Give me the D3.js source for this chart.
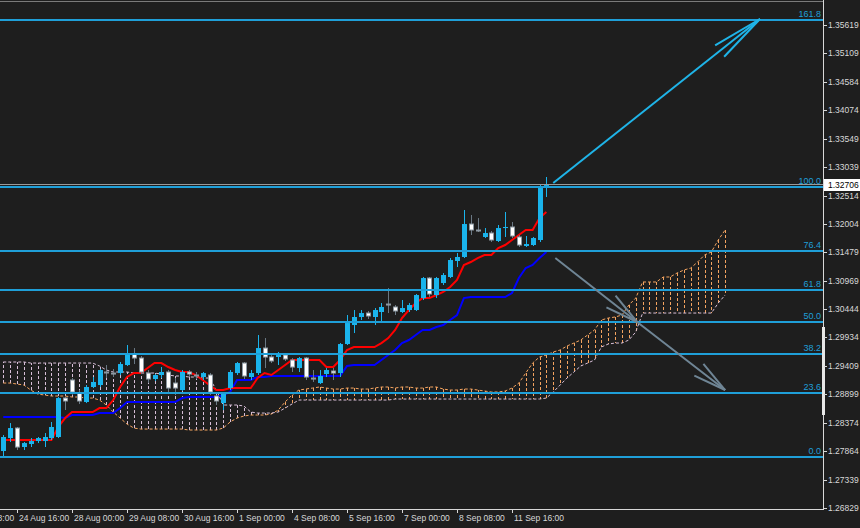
<!DOCTYPE html>
<html><head><meta charset="utf-8">
<script src="https://cdn.jsdelivr.net/npm/d3@7"></script>
<style>
html,body{margin:0;padding:0;background:#1e1e1e;overflow:hidden}
svg{display:block}
text{font-family:"Liberation Sans",Arial,sans-serif}
</style></head><body>
<svg id="c" width="860" height="528"></svg>
<script>
// ---------- DATA ----------
const open = [1.27866,1.28102,1.28284,1.27939,1.27993,1.28048,1.28048,1.28102,1.28121,1.28830,
 1.29158,1.28921,1.28758,1.29031,1.29067,1.29304,1.29285,1.29285,1.29431,1.29631,
 1.29558,1.29285,1.29176,1.29249,1.29304,1.29103,1.28976,1.29304,1.29249,1.29213,
 1.29249,1.28867,1.28739,1.29012,1.29285,1.29467,1.29213,1.29285,1.29740,1.29577,
 1.29577,1.29613,1.29522,1.29376,1.29558,1.29194,1.29103,1.29267,1.29322,1.29285,
 1.29813,1.30159,1.30305,1.30377,1.30305,1.30396,1.30541,1.30487,1.30396,1.30432,
 1.30432,1.30650,1.31014,1.30705,1.30923,1.31033,1.31324,1.31397,1.31997,1.31888,
 1.31761,1.31833,1.31688,1.31924,1.31943,1.31761,1.31597,1.31615,1.31706,1.32671];
const high = [1.28157,1.28375,1.28303,1.28030,1.28102,1.28121,1.28193,1.28394,1.28849,1.28849,
 1.29194,1.28976,1.29067,1.29213,1.29358,1.29431,1.29358,1.29486,1.29795,1.29740,
 1.29595,1.29340,1.29267,1.29395,1.29340,1.29194,1.29340,1.29340,1.29304,1.29304,
 1.29285,1.28885,1.28940,1.29340,1.29486,1.29486,1.29340,1.29977,1.29922,1.29613,
 1.29668,1.29631,1.29558,1.29577,1.29577,1.29340,1.29340,1.29376,1.29376,1.29831,
 1.30341,1.30432,1.30432,1.30414,1.30468,1.30559,1.30832,1.30523,1.30614,1.30559,
 1.30723,1.31033,1.31033,1.31033,1.31105,1.31378,1.31469,1.32252,1.32161,1.32106,
 1.31924,1.31870,1.31979,1.32216,1.32034,1.31797,1.31779,1.31761,1.32707,1.32853];
const low = [1.27757,1.28030,1.27884,1.27884,1.27939,1.28011,1.27939,1.28066,1.28102,1.28612,
 1.28885,1.28721,1.28739,1.29012,1.29031,1.29194,1.29213,1.29249,1.29413,1.29449,
 1.29267,1.29103,1.29140,1.29194,1.28940,1.28885,1.28958,1.29213,1.29176,1.29158,
 1.28885,1.28703,1.28612,1.28976,1.29249,1.29176,1.29158,1.29249,1.29376,1.29467,
 1.29431,1.29504,1.29304,1.29304,1.29158,1.29122,1.29085,1.29213,1.29158,1.29213,
 1.29795,1.30013,1.30250,1.30268,1.30159,1.30214,1.30377,1.30341,1.30377,1.30396,
 1.30414,1.30614,1.30669,1.30650,1.30887,1.31014,1.31215,1.31378,1.31797,1.31852,
 1.31742,1.31670,1.31670,1.31761,1.31742,1.31579,1.31579,1.31597,1.31670,1.32489];
const close = [1.28121,1.28284,1.27920,1.28011,1.28048,1.28102,1.28121,1.28303,1.28830,1.28758,
 1.28921,1.28758,1.29031,1.29122,1.29340,1.29285,1.29267,1.29449,1.29631,1.29540,
 1.29285,1.29158,1.29249,1.29304,1.28994,1.28994,1.29304,1.29249,1.29231,1.29285,
 1.28921,1.28758,1.28921,1.29304,1.29467,1.29213,1.29285,1.29740,1.29558,1.29486,
 1.29613,1.29522,1.29376,1.29558,1.29194,1.29158,1.29231,1.29340,1.29267,1.29813,
 1.30195,1.30305,1.30377,1.30305,1.30432,1.30487,1.30523,1.30396,1.30468,1.30523,
 1.30705,1.31014,1.30705,1.31014,1.31069,1.31342,1.31397,1.31997,1.31870,1.31870,
 1.31833,1.31688,1.31924,1.31943,1.31761,1.31597,1.31633,1.31742,1.32652,1.32706];

const tenkan = [1.28066,1.28066,1.28066,1.28066,1.28066,1.28066,1.28066,1.28066,1.28303,1.28466,
 1.28576,1.28576,1.28576,1.28576,1.28648,1.28648,1.28794,1.29031,1.29213,1.29285,
 1.29285,1.29376,1.29467,1.29467,1.29395,1.29340,1.29304,1.29304,1.29249,1.29158,
 1.29067,1.28976,1.28976,1.29012,1.29012,1.29012,1.29012,1.29194,1.29285,1.29249,
 1.29340,1.29431,1.29522,1.29522,1.29522,1.29522,1.29522,1.29395,1.29395,1.29522,
 1.29704,1.29759,1.29759,1.29759,1.29759,1.29831,1.29922,1.30068,1.30286,1.30432,
 1.30559,1.30650,1.30650,1.30705,1.30760,1.30851,1.30978,1.31251,1.31306,1.31378,
 1.31433,1.31433,1.31560,1.31615,1.31706,1.31797,1.31888,1.31888,1.32106,1.32216];
const kijun = [1.28485,1.28485,1.28485,1.28485,1.28485,1.28485,1.28485,1.28485,1.28485,1.28466,
 1.28521,1.28521,1.28521,1.28521,1.28557,1.28557,1.28557,1.28648,1.28758,1.28758,
 1.28758,1.28758,1.28758,1.28758,1.28758,1.28758,1.28830,1.28849,1.28849,1.28849,
 1.28849,1.28849,1.28885,1.28940,1.29158,1.29158,1.29158,1.29213,1.29213,1.29231,
 1.29231,1.29231,1.29231,1.29231,1.29231,1.29231,1.29231,1.29231,1.29231,1.29231,
 1.29413,1.29431,1.29431,1.29431,1.29431,1.29522,1.29613,1.29704,1.29831,1.29886,
 1.29977,1.30068,1.30068,1.30123,1.30159,1.30250,1.30341,1.30650,1.30669,1.30669,
 1.30669,1.30669,1.30669,1.30669,1.30741,1.31014,1.31196,1.31251,1.31378,1.31488];
const spanA = [1.29103,1.29103,1.29085,1.29067,1.28976,1.28903,1.28885,1.28867,1.28867,1.28867,
 1.28849,1.28849,1.28830,1.28830,1.28794,1.28703,1.28576,1.28466,1.28357,1.28284,
 1.28266,1.28266,1.28266,1.28266,1.28266,1.28266,1.28266,1.28248,1.28248,1.28248,
 1.28248,1.28248,1.28284,1.28394,1.28466,1.28503,1.28521,1.28521,1.28521,1.28539,
 1.28612,1.28758,1.28885,1.28976,1.28994,1.29012,1.29031,1.29012,1.28994,1.28994,
 1.29012,1.29012,1.28994,1.28994,1.29012,1.29031,1.29031,1.29012,1.29031,1.29031,
 1.29012,1.29012,1.29031,1.29031,1.28994,1.28976,1.28976,1.28994,1.28994,1.28976,
 1.28958,1.28940,1.28940,1.28958,1.29012,1.29103,1.29285,1.29467,1.29577,1.29613,
 1.29668,1.29704,1.29777,1.29831,1.29886,1.29977,1.30068,1.30250,1.30286,1.30305,
 1.30341,1.30523,1.30650,1.30942,1.30942,1.30942,1.31033,1.31033,1.31105,1.31160,
 1.31196,1.31306,1.31433,1.31488,1.31706,1.31888];
const spanB = [1.29486,1.29486,1.29486,1.29486,1.29467,1.29467,1.29467,1.29467,1.29467,1.29467,
 1.29467,1.29467,1.29467,1.29467,1.29413,1.29340,1.29304,1.29304,1.29304,1.29285,
 1.29285,1.29285,1.29285,1.29267,1.29249,1.29231,1.29231,1.29213,1.29213,1.29194,
 1.29194,1.28976,1.28703,1.28703,1.28703,1.28685,1.28576,1.28557,1.28557,1.28557,
 1.28576,1.28648,1.28721,1.28794,1.28794,1.28794,1.28794,1.28794,1.28794,1.28794,
 1.28794,1.28794,1.28794,1.28794,1.28794,1.28794,1.28794,1.28812,1.28812,1.28812,
 1.28812,1.28812,1.28812,1.28812,1.28812,1.28812,1.28812,1.28812,1.28812,1.28812,
 1.28812,1.28812,1.28812,1.28812,1.28812,1.28812,1.28812,1.28812,1.28812,1.28830,
 1.28940,1.29067,1.29194,1.29304,1.29413,1.29467,1.29522,1.29759,1.29813,1.29831,
 1.29831,1.29886,1.30032,1.30377,1.30377,1.30377,1.30377,1.30377,1.30377,1.30377,
 1.30377,1.30377,1.30377,1.30377,1.30559,1.30705];

const timeTickIndex = [-6,2,10,18,26,34,42,50,58,66,74];
const timeTickLabels = ["23 Aug 08:00","24 Aug 16:00","28 Aug 00:00","29 Aug 08:00","30 Aug 16:00",
  "1 Sep 00:00","4 Sep 08:00","5 Sep 16:00","7 Sep 00:00","8 Sep 08:00","11 Sep 16:00"];
const priceTicks = [1.35619,1.35109,1.34584,1.34074,1.33549,1.33039,1.32514,1.32004,1.31479,
  1.30969,1.30444,1.29934,1.29409,1.28899,1.28374,1.27864,1.27339,1.26829];
const fibLevels = [0, 23.6, 38.2, 50, 61.8, 76.4, 100, 161.8];
const fibLow = 1.27757, fibHigh = 1.32671;
const arrowUp = [[80.0, 1.32744], [110.07, 1.35728]];
const arrowDown = [[80.3, 1.31378], [92.2, 1.30214], [105.0, 1.28976]];

// ---------- LAYOUT ----------
const W = 860, H = 528, plotR = 823, plotB = 509;
const svg = d3.select("#c");
svg.append("rect").attr("width", W).attr("height", H).attr("fill", "#1e1e1e");

const x = d3.scaleLinear().domain([0, 79]).range([3.25, 3.25 + 79 * 6.875]);
const y = d3.scaleLinear().domain([1.26829, 1.35619]).range([508, 25]);

svg.append("clipPath").attr("id", "clip").append("rect")
  .attr("x", 0).attr("y", 0).attr("width", plotR).attr("height", plotB);
const g = svg.append("g").attr("clip-path", "url(#clip)");

const SANDY = "#f4a460", THISTLE = "#d8bfd8";
const FIB = "#1f9fd8", BULL = "#1ab4ec", BEAR_W = "#6a7884";

// cloud verticals
const cloudIdx = d3.range(spanA.length);
g.append("g").selectAll("line").data(cloudIdx).join("line")
  .attr("x1", i => Math.round(x(i)) + 0.5).attr("x2", i => Math.round(x(i)) + 0.5)
  .attr("y1", i => y(spanA[i])).attr("y2", i => y(spanB[i]))
  .attr("stroke", i => spanA[i] >= spanB[i] ? SANDY : THISTLE)
  .attr("stroke-width", 1).attr("stroke-dasharray", "3,2");
const lineGen = arr => d3.line().x((d, i) => x(i)).y(d => y(d))(arr);
g.append("path").attr("d", lineGen(spanA)).attr("fill", "none")
  .attr("stroke", SANDY).attr("stroke-width", 1).attr("stroke-dasharray", "3,2");
g.append("path").attr("d", lineGen(spanB)).attr("fill", "none")
  .attr("stroke", THISTLE).attr("stroke-width", 1).attr("stroke-dasharray", "3,2");

// kijun / tenkan
g.append("path").attr("d", lineGen(kijun)).attr("fill", "none")
  .attr("stroke", "#0000ff").attr("stroke-width", 2);
g.append("path").attr("d", lineGen(tenkan)).attr("fill", "none")
  .attr("stroke", "#ff0000").attr("stroke-width", 2);

// candles
const idx = d3.range(open.length);
const cg = g.append("g");
idx.forEach(i => {
  const bull = close[i] >= open[i];
  const cx = Math.round(x(i)) + 0.5;
  cg.append("line").attr("x1", cx).attr("x2", cx)
    .attr("y1", y(high[i])).attr("y2", y(low[i]))
    .attr("stroke", bull ? BULL : BEAR_W).attr("stroke-width", 1);
  const top = y(Math.max(open[i], close[i])), bot = y(Math.min(open[i], close[i]));
  const h = Math.max(bot - top, 1);
  if (bull) {
    cg.append("rect").attr("x", cx - 2.5).attr("y", top).attr("width", 5).attr("height", h)
      .attr("fill", BULL);
  } else {
    cg.append("rect").attr("x", cx - 2).attr("y", top).attr("width", 4).attr("height", Math.max(h - 1, 1))
      .attr("fill", "#ffffff").attr("stroke", "#8c98a2").attr("stroke-width", 1);
  }
});

// bid line
const last = close[close.length - 1];
g.append("line").attr("x1", 0).attr("x2", plotR).attr("y1", Math.round(y(last)) - 0.5).attr("y2", Math.round(y(last)) - 0.5)
  .attr("stroke", "#9a9a9a").attr("stroke-width", 1);

// fibonacci
const fg = g.append("g");
fibLevels.forEach(l => {
  const p = fibLow + (fibHigh - fibLow) * l / 100;
  const yy = Math.round(y(p));
  fg.append("line").attr("x1", 0).attr("x2", plotR).attr("y1", yy).attr("y2", yy)
    .attr("stroke", FIB).attr("stroke-width", 2);
  fg.append("text").attr("x", 821).attr("y", yy - 3).attr("text-anchor", "end")
    .attr("font-size", "9px").attr("fill", FIB).text(l.toFixed(1));
});

// arrows
function arrowHead(p0, p1, color, len, ang) {
  const x0 = x(p0[0]), y0 = y(p0[1]), x1 = x(p1[0]), y1 = y(p1[1]);
  const a = Math.atan2(y1 - y0, x1 - x0);
  [ang, -ang].forEach(d => {
    g.append("line").attr("x1", x1).attr("y1", y1)
      .attr("x2", x1 - len * Math.cos(a + d)).attr("y2", y1 - len * Math.sin(a + d))
      .attr("stroke", color).attr("stroke-width", 2);
  });
}
function arrowPath(pts, color, len, ang) {
  g.append("path").attr("d", d3.line().x(d => x(d[0])).y(d => y(d[1]))(pts))
    .attr("fill", "none").attr("stroke", color).attr("stroke-width", 2);
  for (let k = 1; k < pts.length; k++) arrowHead(pts[k - 1], pts[k], color, len, ang);
}
arrowPath(arrowUp, "#1fb4e8", 52, 0.14);
arrowPath(arrowDown, "#6f8595", 34, 0.22);

// ---------- AXES ----------
const AX = "#d8d8d8";
svg.append("line").attr("x1", 0).attr("x2", plotR).attr("y1", 1.5).attr("y2", 1.5).attr("stroke", "#7a7a7a");
svg.append("line").attr("x1", plotR + 0.5).attr("x2", plotR + 0.5).attr("y1", 0).attr("y2", plotB + 1).attr("stroke", AX);
svg.append("line").attr("x1", 0).attr("x2", plotR + 1).attr("y1", plotB + 0.5).attr("y2", plotB + 0.5).attr("stroke", AX);
svg.append("rect").attr("x", plotR - 1).attr("y", 327).attr("width", 3).attr("height", 88).attr("fill", "#e8e8e8");

priceTicks.forEach(p => {
  const yy = Math.round(y(p)) + 0.5;
  svg.append("line").attr("x1", plotR + 1).attr("x2", plotR + 4).attr("y1", yy).attr("y2", yy).attr("stroke", AX);
  svg.append("text").attr("x", 828).attr("y", yy).attr("dy", "0.35em")
    .attr("font-size", "8.5px").attr("fill", AX).text(p.toFixed(5));
});
// current price label
const ly = Math.round(y(last));
svg.append("rect").attr("x", 824).attr("y", ly - 6).attr("width", 36).attr("height", 12).attr("fill", "#ffffff");
svg.append("text").attr("x", 828).attr("y", ly).attr("dy", "0.35em")
  .attr("font-size", "8.5px").attr("fill", "#000").text(last.toFixed(5));

timeTickIndex.forEach((ti, k) => {
  const xx = Math.round(x(ti)) + 0.5;
  svg.append("line").attr("x1", xx).attr("x2", xx).attr("y1", plotB).attr("y2", plotB + 4).attr("stroke", AX);
  svg.append("text").attr("x", xx + 1.5).attr("y", 521).attr("font-size", "8.5px").attr("fill", AX).text(timeTickLabels[k]);
});
</script>
</body></html>
